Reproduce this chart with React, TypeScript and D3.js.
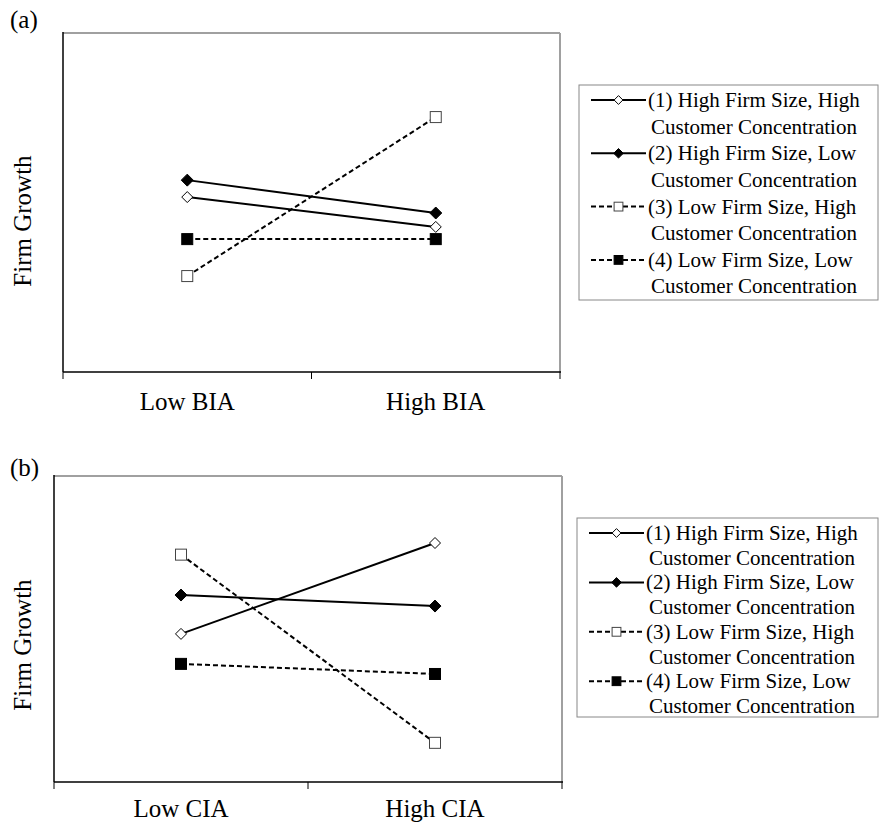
import React from "react";
import * as d3 from "d3";

const categoriesA = ["Low BIA", "High BIA"];
const categoriesB = ["Low CIA", "High CIA"];
const seriesNames = [
  ["(1) High Firm Size, High", "Customer Concentration"],
  ["(2) High Firm Size, Low", "Customer Concentration"],
  ["(3) Low Firm Size, High", "Customer Concentration"],
  ["(4) Low Firm Size, Low", "Customer Concentration"],
];
const valuesA1 = [0.516, 0.428];
const valuesA2 = [0.566, 0.469];
const valuesA3 = [0.283, 0.752];
const valuesA4 = [0.392, 0.392];
const valuesB1 = [0.484, 0.781];
const valuesB2 = [0.611, 0.575];
const valuesB3 = [0.743, 0.128];
const valuesB4 = [0.386, 0.353];
const yDomain = [0, 1];

const FONT = "'Liberation Serif', 'Times New Roman', serif";

type Style = { dash: string | null; shape: "diamond" | "square"; filled: boolean };
const styles: Style[] = [
  { dash: null, shape: "diamond", filled: false },
  { dash: null, shape: "diamond", filled: true },
  { dash: "5,3", shape: "square", filled: false },
  { dash: "5,3", shape: "square", filled: true },
];

function Marker({ x, y, s, scale = 1 }: { x: number; y: number; s: Style; scale?: number }) {
  if (s.shape === "diamond") {
    const r = (s.filled ? 6 : 5.5) * scale;
    return (
      <path
        d={`M${x},${y - r}L${x + r},${y}L${x},${y + r}L${x - r},${y}Z`}
        fill={s.filled ? "#000" : "#fff"}
        stroke="#000"
        strokeWidth={1}
      />
    );
  }
  const h = 5.5 * scale;
  return (
    <rect
      x={x - h}
      y={y - h}
      width={2 * h}
      height={2 * h}
      fill={s.filled ? "#000" : "#fff"}
      stroke={s.filled ? "#000" : "#444"}
      strokeWidth={1}
    />
  );
}

type PanelProps = {
  tag: string;
  tagY: number;
  cats: string[];
  series: number[][];
  left: number;
  right: number;
  top: number;
  bottom: number;
  labelY: number;
  titleY: number;
  legend: { x0: number; x1: number; y0: number; y1: number; row0: number; rowStep: number; lineStep: number };
};

function Panel(p: PanelProps) {
  const x = d3.scaleBand<string>().domain(p.cats).range([p.left, p.right]);
  const y = d3.scaleLinear().domain(yDomain).range([p.bottom, p.top]);
  const cx = (c: string) => (x(c) as number) + x.bandwidth() / 2;
  const line = d3
    .line<number>()
    .x((_, i) => cx(p.cats[i]))
    .y((v) => y(v));
  const tickXs = [p.left, ...p.cats.map((c) => (x(c) as number) + x.bandwidth())];
  const L = p.legend;
  return (
    <g>
      <text x={10} y={p.tagY} fontFamily={FONT} fontSize={25}>
        {p.tag}
      </text>
      {/* plot frame */}
      <line x1={p.left} y1={p.top} x2={p.right} y2={p.top} stroke="#a0a0a0" strokeWidth={2} />
      <line x1={p.right} y1={p.top} x2={p.right} y2={p.bottom} stroke="#a0a0a0" strokeWidth={2} />
      <line x1={p.left} y1={p.top - 1} x2={p.left} y2={p.bottom} stroke="#000" strokeWidth={1.5} />
      <line x1={p.left} y1={p.bottom} x2={p.right + 1} y2={p.bottom} stroke="#000" strokeWidth={1.5} />
      {tickXs.map((tx, i) => (
        <line key={i} x1={tx} y1={p.bottom} x2={tx} y2={p.bottom + 7} stroke="#000" strokeWidth={1} />
      ))}
      {p.cats.map((c) => (
        <text key={c} x={cx(c)} y={p.labelY} textAnchor="middle" fontFamily={FONT} fontSize={25}>
          {c}
        </text>
      ))}
      <text
        transform={`translate(31,${p.titleY}) rotate(-90)`}
        textAnchor="middle"
        fontFamily={FONT}
        fontSize={25}
      >
        Firm Growth
      </text>
      {p.series.map((vals, i) => (
        <path
          key={"l" + i}
          d={line(vals) as string}
          fill="none"
          stroke="#000"
          strokeWidth={2}
          strokeDasharray={styles[i].dash ?? undefined}
        />
      ))}
      {p.series.map((vals, i) =>
        vals.map((v, j) => <Marker key={"m" + i + "-" + j} x={cx(p.cats[j])} y={y(v)} s={styles[i]} />)
      )}
      {/* legend */}
      <rect x={L.x0} y={L.y0} width={L.x1 - L.x0} height={L.y1 - L.y0} fill="#fff" stroke="#888" strokeWidth={1} />
      {seriesNames.map((names, i) => {
        const ry = L.row0 + i * L.rowStep;
        const lx0 = L.x0 + 12;
        const lx1 = L.x0 + 67;
        const mx = (lx0 + lx1) / 2;
        return (
          <g key={"lg" + i}>
            <line
              x1={lx0}
              y1={ry}
              x2={lx1}
              y2={ry}
              stroke="#000"
              strokeWidth={2}
              strokeDasharray={styles[i].dash ?? undefined}
            />
            <Marker x={mx} y={ry} s={styles[i]} scale={0.8} />
            <text x={lx1 + 2} y={ry + 7} fontFamily={FONT} fontSize={21}>
              {names[0]}
            </text>
            <text x={lx1 + 5} y={ry + 7 + L.lineStep} fontFamily={FONT} fontSize={21}>
              {names[1]}
            </text>
          </g>
        );
      })}
    </g>
  );
}

export default function App() {
  return (
    <svg width={887} height={825} style={{ position: "absolute", left: 0, top: 0, background: "#fff" }}>
      <rect width={887} height={825} fill="#fff" />
      <Panel
        tag="(a)"
        tagY={28}
        cats={categoriesA}
        series={[valuesA1, valuesA2, valuesA3, valuesA4]}
        left={63}
        right={560}
        top={33}
        bottom={372}
        labelY={410}
        titleY={221}
        legend={{ x0: 579, x1: 878, y0: 85, y1: 300, row0: 100, rowStep: 53.3, lineStep: 26.5 }}
      />
      <Panel
        tag="(b)"
        tagY={476}
        cats={categoriesB}
        series={[valuesB1, valuesB2, valuesB3, valuesB4]}
        left={54}
        right={562}
        top={476}
        bottom={782}
        labelY={817}
        titleY={645}
        legend={{ x0: 577, x1: 878, y0: 518, y1: 717, row0: 533, rowStep: 49.4, lineStep: 24.7 }}
      />
    </svg>
  );
}
